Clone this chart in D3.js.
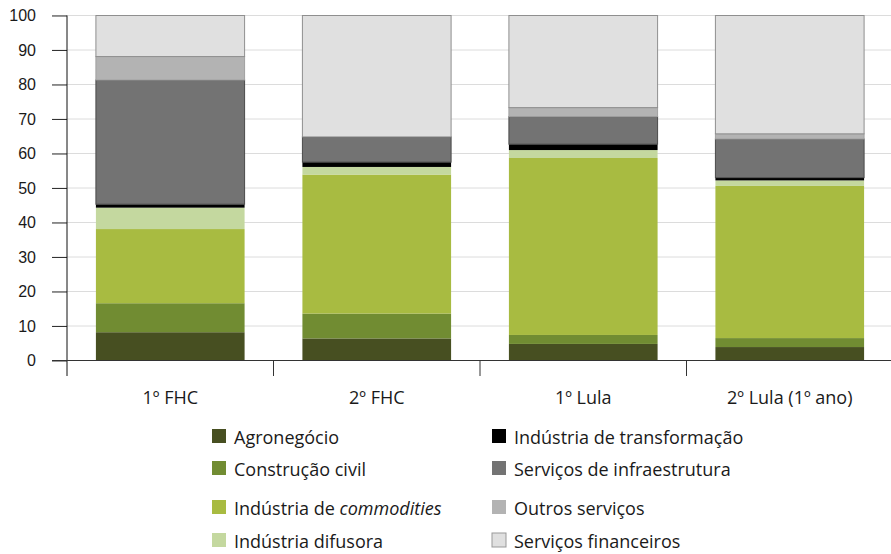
<!DOCTYPE html>
<html lang="pt">
<head>
<meta charset="UTF-8">
<title>Composição por setor</title>
<style>
  body{margin:0;background:#fff;font-family:'Open Sans',sans-serif}
  svg{display:block}
  .tick text{font-size:16px;fill:#1a1a1a}
  .legend text{font-size:18px;fill:#1a1a1a}
</style>
</head>
<body>
<div id="chart"></div>
<script src="https://d3js.org/d3.v7.min.js"></script>
<script>
/* dados (% do total) */
const periods=["1º FHC","2º FHC","1º Lula","2º Lula (1º ano)"];
const sectors=["Agronegócio","Construção civil","Indústria de commodities","Indústria difusora",
               "Indústria de transformação","Serviços de infraestrutura","Outros serviços","Serviços financeiros"];
const agro      =[8.2, 6.4, 4.8, 3.9];
const construcao=[8.4, 7.2, 2.6, 2.6];
const commodities=[21.5,40.3,51.3,44.1];
const difusora  =[6.2, 2.2, 2.3, 1.6];
const transform =[1.0, 1.4, 1.7, 0.8];
const infra     =[36.0,7.3, 8.0, 11.2];
const outros    =[6.8, 0.0, 2.6, 1.5];
const financeiros=[11.9,35.2,26.7,34.3];
const yTicks=[0,10,20,30,40,50,60,70,80,90,100];

const series=[agro,construcao,commodities,difusora,transform,infra,outros,financeiros];
const colors=["#474f21","#718c32","#a8bb41","#c4d89f","#000000","#737373","#b3b3b3","#e0e0e0"];
const strokes=[null,null,null,null,null,"#4a4a4a","#a0a0a0","#8f8f8f"];

const W=891,H=554;
const svg=d3.select("#chart").append("svg").attr("width",W).attr("height",H);

/* escalas */
const x=d3.scaleBand().domain(periods).range([67,893]).paddingInner(0.28).paddingOuter(0.14);
const y=d3.scaleLinear().domain([0,100]).range([360.5,15.5]);

/* tabela empilhada */
const rows=periods.map((p,i)=>{const o={period:p};sectors.forEach((s,k)=>o[s]=series[k][i]);return o;});
const stacked=d3.stack().keys(sectors)(rows);

/* grade */
svg.append("g")
  .selectAll("line").data(yTicks).join("line")
  .attr("x1",52).attr("x2",W).attr("y1",d=>y(d)).attr("y2",d=>y(d))
  .attr("stroke","#dcdcdc").attr("stroke-width",1);

/* barras */
svg.append("g").selectAll("g").data(stacked).join("g")
  .attr("fill",(d,i)=>colors[i])
  .attr("stroke",(d,i)=>strokes[i]||"none")
  .attr("stroke-width",1)
  .selectAll("rect").data(d=>d).join("rect")
  .attr("x",d=>x(d.data.period))
  .attr("width",x.bandwidth())
  .attr("y",d=>y(d[1]))
  .attr("height",d=>Math.max(0,y(d[0])-y(d[1])));

/* eixo Y */
const yAxis=svg.append("g").attr("transform","translate(67,0)")
  .call(d3.axisLeft(y).tickValues(yTicks).tickSize(15).tickPadding(16));
yAxis.select(".domain").remove();
yAxis.selectAll(".tick line").attr("stroke","#333");
svg.append("line").attr("x1",67).attr("x2",67).attr("y1",y(100)).attr("y2",376)
  .attr("stroke","#111");

/* eixo X */
svg.append("line").attr("x1",52).attr("x2",W).attr("y1",y(0)).attr("y2",y(0)).attr("stroke","#333");
const bounds=[1,2,3].map(i=>x(periods[i])-x.step()*x.paddingInner()/2);
svg.append("g").selectAll("line").data(bounds).join("line")
  .attr("x1",d=>d).attr("x2",d=>d).attr("y1",y(0)).attr("y2",376).attr("stroke","#333");
svg.append("g").selectAll("text").data(periods).join("text")
  .attr("x",d=>x(d)+x.bandwidth()/2).attr("y",404)
  .attr("text-anchor","middle").style("font-size","18px").attr("fill","#1a1a1a")
  .text(d=>d);

/* legenda */
const legRowY=[429,461,500,533];
const legColX=[212,492];
const legend=svg.append("g").attr("class","legend");
sectors.forEach((s,i)=>{
  const col=Math.floor(i/4),row=i%4;
  const g=legend.append("g").attr("transform",`translate(${legColX[col]},${legRowY[row]})`);
  g.append("rect").attr("width",14).attr("height",14).attr("fill",colors[i])
   .attr("stroke",i===7?"#999":"none");
  const t=g.append("text").attr("x",22).attr("y",14.5);
  if(s==="Indústria de commodities"){
    t.append("tspan").text("Indústria de ");
    t.append("tspan").style("font-style","italic").text("commodities");
  } else t.text(s);
});
</script>
</body>
</html>
